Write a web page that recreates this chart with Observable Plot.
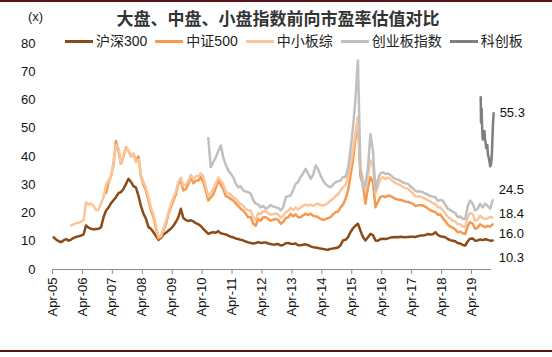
<!DOCTYPE html>
<html>
<head>
<meta charset="utf-8">
<script src="https://cdn.jsdelivr.net/npm/d3@7"></script>
<script src="https://cdn.jsdelivr.net/npm/@observablehq/plot@0.6"></script>
<style>
  body { margin: 0; background: #fff; }
  #wrap { position: relative; width: 552px; height: 357px; overflow: hidden; background: #fff;
          font-family: "Liberation Sans", Arial, "Noto Sans CJK SC", sans-serif; }
  #chart { position: absolute; left: 0; top: 0; }
  .bar { position: absolute; left: 0; width: 552px; height: 2px; background: #5a1419; }
  #title { position: absolute; left: 0; top: 7px; width: 556px; text-align: center;
           font-family: "Noto Sans CJK SC", sans-serif; font-weight: bold; font-size: 17px;
           line-height: 22px; color: #333; }
  #unit { position: absolute; left: 28px; top: 9px; font-size: 13px; line-height: 16px; color: #222; }
  #legend { position: absolute; left: 65px; top: 32px; display: flex; align-items: center;
            font-size: 14px; line-height: 18px; color: #222; }
  .item { display: flex; align-items: center; margin-right: 8px; }
  .sw { width: 28px; height: 3px; margin-right: 3px; }
</style>
</head>
<body>
<div id="wrap">
  <div id="chart"></div>
  <div class="bar" style="top:0px"></div>
  <div class="bar" style="top:350px"></div>
  <div id="title"></div>
  <div id="unit">(x)</div>
  <div id="legend"></div>
</div>
<script>
// ---- texts ----
const titleText = "大盘、中盘、小盘指数前向市盈率估值对比";
const unitText = "(x)";
const seriesNames = ["沪深300", "中证500", "中小板综", "创业板指数", "科创板"];
const seriesColors = ["#8c4a17", "#f4994f", "#fac59a", "#c0c0c0", "#7f7f7f"];
const yTicks = [0, 10, 20, 30, 40, 50, 60, 70, 80];
const xTickYears = [2005, 2006, 2007, 2008, 2009, 2010, 2011, 2012, 2013, 2014, 2015, 2016, 2017, 2018, 2019];
const endLabels = ["10.3", "16.0", "18.4", "24.5", "55.3"];

// ---- monthly values (start month given) ----
const hs300Start = "2005-04";
const hs300 = [
  11.4, 10.6, 10.0, 9.7, 10.3, 10.8, 10.2, 10.6, 11.2,
  11.5, 11.8, 12.0, 12.4, 15.6, 14.8, 14.4, 14.2, 14.3, 14.4, 15.0, 18.5,
  20.9, 22.0, 23.4, 24.5, 25.6, 27.0, 27.4, 28.5, 30.3, 32.1, 31.0, 29.5,
  29.0, 26.0, 22.5, 19.7, 18.0, 15.0, 14.4, 13.2, 11.8, 10.5, 11.2, 12.4,
  13.0, 13.8, 14.4, 15.5, 16.8, 18.5, 21.5, 18.2, 17.5, 17.2, 17.4, 17.0,
  16.4, 16.0, 15.4, 14.4, 13.5, 12.6, 13.0, 13.2, 13.0, 13.6, 12.8, 12.6,
  12.4, 12.0, 11.6, 11.4, 11.0, 10.8, 10.5, 10.3, 9.9, 9.6, 9.4, 9.2,
  9.4, 9.7, 9.4, 9.5, 9.6, 9.2, 9.0, 8.8, 8.9, 9.0, 8.5, 8.7,
  9.3, 9.4, 9.1, 9.0, 9.2, 8.6, 8.6, 8.8, 8.9, 8.6, 8.2, 7.9,
  7.8, 7.6, 7.4, 7.3, 7.1, 7.0, 7.3, 7.4, 7.6, 7.8, 8.6, 10.3,
  10.5, 11.5, 13.2, 14.5, 15.5, 16.2, 13.8, 11.5, 10.3, 11.4, 12.6, 12.2,
  10.3, 10.2, 10.8, 10.9, 10.8, 11.0, 11.3, 11.4, 11.5, 11.4, 11.6, 11.5,
  11.4, 11.5, 11.6, 11.6, 11.5, 11.8, 12.0, 12.0, 12.2, 12.6, 12.4, 12.5,
  13.2, 12.2, 11.8, 11.6, 11.4, 10.8, 10.4, 10.2, 10.0, 9.4, 9.2, 8.7,
  8.5, 10.0, 10.9, 11.0, 10.2, 10.3, 10.6, 10.4, 10.7, 10.5, 10.2, 10.3
];

const csi500Start = "2007-01";
const csi500 = [
  27, 31, 33, 37, 45.5, 42, 37.4, 40, 43.3, 42, 40, 41,
  38.5, 40, 33, 30, 28, 24.4, 21, 18.5, 14.5, 11, 11.5, 13.8,
  16, 19.7, 22, 24.4, 26.5, 30.3, 31.5, 28, 28.5, 30.3, 32.7, 30.5,
  31.5, 31.5, 32.7, 31, 28, 24.4, 25.5, 26.5, 29, 31.5, 30, 28.5,
  26, 25.6, 25, 24.4, 23.5, 22.5, 21.5, 20.9, 19.7, 18.5, 18.5, 16.2,
  15.5, 17.9, 17.3, 18.5, 18.5, 17.9, 17.3, 17.6, 17.9, 17.5, 16.2, 16.8,
  18.2, 18.5, 19.7, 18.8, 19.5, 18.5, 18.5, 19.2, 19.7, 19.3, 19.7, 19.0,
  18.8, 18.5, 17.9, 17.6, 17.8, 18.2, 18.5, 19.5, 20.3, 20.5, 22, 23,
  25, 28, 33, 38.6, 46, 53.9, 33, 30.3, 23.3, 29, 32.7, 31,
  22, 24, 25.6, 26, 25.6, 26.2, 26, 25.6, 25, 24.8, 24.6, 24.4,
  24, 24, 23.6, 23.3, 22.5, 22.7, 22.8, 22.7, 22.2, 21.6, 21, 20.6,
  20.3, 19.4, 19.5, 18.2, 17.2, 15.9, 15.2, 14.8, 14.2, 13.2, 13.4, 12.8,
  12.6, 15.5, 16.8, 16.2, 14.4, 14.8, 16.0, 15.4, 15.0, 15.4, 15.2, 16.0
];

const smeStart = "2005-11";
const sme = [
  15.6, 16.0,
  16.4, 16.6, 16.9, 17.5, 23.8, 23.0, 23.4, 22.5, 21.0, 21.2, 23.5, 25.6,
  30, 31.5, 33, 38, 44, 43, 37.4, 40.5, 43.3, 42, 40, 41,
  38, 39, 33.5, 31, 29, 25.6, 22, 19.5, 15.5, 11.5, 12, 14.5,
  17, 20.5, 23, 25.5, 27.5, 31, 32.5, 29.5, 30, 31.5, 33.5, 32,
  33, 33, 34, 33, 29.5, 26, 27, 28.5, 30.5, 32.5, 31.5, 30,
  27.5, 27, 26.5, 25.6, 25, 24, 23.2, 22.5, 21.5, 20.9, 20.9, 18.5,
  17.5, 20, 19.6, 20.5, 20.6, 20, 19.4, 19.6, 19.8, 19.5, 18.3, 19,
  20.3, 20.8, 21.8, 21, 22, 21.2, 22, 22.5, 23, 22.6, 23, 22.6,
  23, 23.3, 22.8, 22.6, 23, 23.5, 24.4, 25, 26, 26.5, 28, 29,
  30, 32.7, 37, 42.1, 48, 53.8, 36, 32, 28, 33, 38.6, 37,
  27, 29.5, 32, 32.7, 32, 32.6, 32, 31.2, 30.6, 30.2, 29.8, 29.2,
  28.8, 28.6, 27.8, 27, 25.8, 25.8, 25.8, 25.5, 25, 24.5, 24, 23.5,
  23.2, 22, 22, 21, 20, 18.6, 18, 17.4, 17, 16, 16, 15.2,
  15, 18.8, 20, 19.7, 17.3, 17.6, 19.1, 18.2, 17.9, 18.2, 18.6, 18.4
];

const chinextStart = "2010-06";
const chinext = [
  46.5, 36.2, 38, 39.7, 42, 43.9, 39.7,
  37, 35, 34, 32.7, 30.5, 29.1, 29.5, 28, 27.6, 27.4, 26.8, 24.5,
  23.3, 23, 22, 22.5, 21.5, 22, 22.8, 22.3, 22, 21.8, 20.9, 22,
  25.6, 26, 26.2, 28, 30.3, 31, 32.7, 34, 35.6, 34, 32.1, 33.5,
  36.8, 35.5, 33.3, 31.5, 30.3, 29.6, 29.1, 30, 30.9, 31.2, 31.5, 32.7,
  32.7, 36, 42, 50, 60, 74, 36, 29, 30, 36, 48, 42,
  28, 32, 34, 34.4, 33.8, 34, 33.5, 32.6, 32.1, 31.8, 31.4, 30.8,
  30.5, 30.3, 29.5, 28.8, 27.8, 27.6, 27.6, 27.4, 26.8, 26.5, 26, 25.8,
  25.6, 24.3, 24.6, 24.4, 23, 21.5, 21, 20.5, 20, 18.5, 18.8, 17.9,
  18, 22.5, 24.4, 23.3, 20.9, 21.5, 23.3, 22, 23.3, 22.5, 21.5, 24.5
];

// ---- weekly values ----
const starDates = [
  "2019-07-22", "2019-07-26", "2019-08-02", "2019-08-09", "2019-08-16", "2019-08-23",
  "2019-08-30", "2019-09-06", "2019-09-13", "2019-09-20", "2019-09-27", "2019-10-11",
  "2019-10-18", "2019-10-25", "2019-11-01", "2019-11-08", "2019-11-15", "2019-11-22",
  "2019-11-29", "2019-12-06", "2019-12-13", "2019-12-20", "2019-12-27"
];
const star = [61, 52, 57, 50, 46, 49, 47, 49, 46, 45, 43, 44, 41, 40, 39, 38, 36.5, 37, 38, 41, 47, 52, 55.3];

// ---- build tables ----
function monthly(start, values) {
  const [y, m] = start.split("-").map(Number);
  return values.map((v, i) => ({ date: new Date(Date.UTC(y, m - 1 + i, 15)), value: v }));
}
const series = [
  monthly(hs300Start, hs300),
  monthly(csi500Start, csi500),
  monthly(smeStart, sme),
  monthly(chinextStart, chinext),
  starDates.map((d, i) => ({ date: new Date(d + "T00:00:00Z"), value: star[i] }))
];
const xTicks = xTickYears.map(y => new Date(Date.UTC(y, 3, 1)));
const labelShift = [17, 10, -4, -10, 0]; // vertical nudges of end labels (px)

const lineMarks = series.map((s, i) =>
  Plot.lineY(s, { x: "date", y: "value", stroke: seriesColors[i], strokeWidth: 2.5 })
);
const labelMarks = series.map((s, i) =>
  Plot.text([s[s.length - 1]], {
    x: "date", y: "value", text: () => endLabels[i], dx: 6, dy: labelShift[i],
    textAnchor: "start", fill: "#111", fontSize: 13
  })
);

const chart = Plot.plot({
  width: 552,
  height: 357,
  marginTop: 43,
  marginBottom: 88,
  marginLeft: 52,
  marginRight: 61,
  style: { background: "transparent", fontFamily: "'Liberation Sans', Arial, sans-serif", fontSize: "13px", color: "#111", overflow: "visible" },
  x: { type: "utc", domain: [new Date(Date.UTC(2005, 3, 1)), new Date(Date.UTC(2019, 11, 1))] },
  y: { domain: [0, 80] },
  marks: [
    Plot.ruleY([0], { stroke: "#8c8c8c", strokeWidth: 1 }),
    Plot.axisX({ ticks: xTicks, tickFormat: d3.utcFormat("%b-%y"), tickRotate: -90, tickSize: 5, tickPadding: 3,
                 stroke: "#8c8c8c", fill: "#111", label: null, fontSize: 13 }),
    Plot.axisY({ ticks: yTicks, tickSize: 0, tickPadding: 17, label: null, fill: "#111", fontSize: 13 }),
    ...lineMarks,
    ...labelMarks
  ]
});
document.getElementById("chart").appendChild(chart);

// ---- title & legend ----
document.getElementById("title").textContent = titleText;
document.getElementById("unit").textContent = unitText;
const legend = document.getElementById("legend");
seriesNames.forEach((name, i) => {
  const item = document.createElement("div");
  item.className = "item";
  const sw = document.createElement("div");
  sw.className = "sw";
  sw.style.background = seriesColors[i];
  const t = document.createElement("span");
  t.textContent = name;
  item.appendChild(sw);
  item.appendChild(t);
  legend.appendChild(item);
});
</script>
</body>
</html>
